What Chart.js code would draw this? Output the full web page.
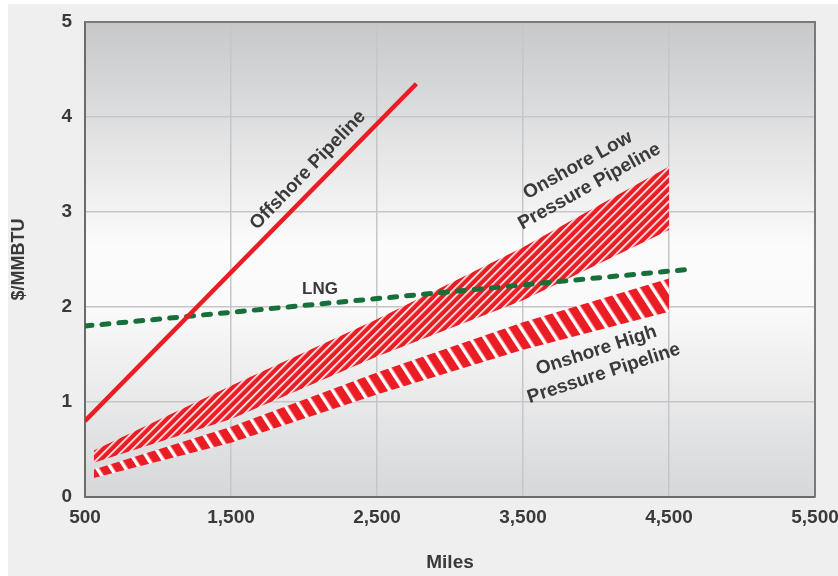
<!DOCTYPE html>
<html>
<head>
<meta charset="utf-8">
<script src="https://cdn.jsdelivr.net/npm/chart.js@4.4.1/dist/chart.umd.min.js"></script>
<style>
  html, body { margin: 0; padding: 0; background: #fff; }
  #wrap { position: absolute; left: 8px; top: 4px; width: 830px; height: 572px; background: #efefef; }
  canvas { display: block; }
</style>
</head>
<body>
<div id="wrap"><canvas id="chart" width="830" height="572"></canvas></div>
<script>
// ===== DATA =====
const xTicks = [500, 1500, 2500, 3500, 4500, 5500];
const yTicks = [0, 1, 2, 3, 4, 5];

const offshoreMiles = [500, 2770];
const offshoreCost = [0.8, 4.35];

const lngMiles = [500, 4660];
const lngCost = [1.8, 2.4];

const lowMiles = [560, 1500, 2500, 3500, 4500];
const lowUpper = [0.49, 1.17, 1.87, 2.63, 3.48];
const lowLower = [0.36, 0.82, 1.48, 2.07, 2.81];

const highMiles = [560, 1500, 2500, 3500, 4500];
const highUpper = [0.29, 0.74, 1.31, 1.84, 2.3];
const highLower = [0.2, 0.57, 1.08, 1.55, 1.95];

const RED = '#ea1d25';
const GREEN = '#17703a';
const TEXT = '#3a3a3a';
const FONT = "'Liberation Sans', Arial, sans-serif";

const pts = (xs, ys) => xs.map((x, i) => ({ x: x, y: ys[i] }));

// hatch pattern: stripes of fg on bg, rotated
function stripes(bg, fg, period, lineW, angle) {
  const c = document.createElement('canvas');
  c.width = period; c.height = period;
  const g = c.getContext('2d');
  g.fillStyle = bg; g.fillRect(0, 0, period, period);
  g.fillStyle = fg; g.fillRect(0, 0, lineW, period);
  const p = g.createPattern(c, 'repeat');
  p.setTransform(new DOMMatrix().rotateSelf(angle));
  return p;
}
const lowHatch = stripes(RED, '#ffffff', 6, 1.6, 45);
const highHatch = stripes(RED, '#ffffff', 12, 3.5, -33);

// text placed on the plot (data coords)
const notes = [
  { lines: ['Offshore Pipeline'], x: 2027, y: 3.44, angle: -46, size: 19 },
  { lines: ['Onshore Low', 'Pressure Pipeline'], x: 3915, y: 3.38, angle: -29, size: 19 },
  { lines: ['LNG'], x: 2110, y: 2.19, angle: 0, size: 17 },
  { lines: ['Onshore High', 'Pressure Pipeline'], x: 4028, y: 1.42, angle: -18, size: 19 }
];

const plotBg = {
  id: 'plotBg',
  beforeDraw(chart) {
    const { ctx, chartArea: a } = chart;
    const grd = ctx.createLinearGradient(0, a.top, 0, a.bottom);
    grd.addColorStop(0, '#c7c8ca');
    grd.addColorStop(0.47, '#fbfbfb');
    grd.addColorStop(0.6, '#fafafa');
    grd.addColorStop(1, '#d6d7d9');
    ctx.save();
    ctx.fillStyle = grd;
    ctx.fillRect(a.left, a.top, a.right - a.left, a.bottom - a.top);
    ctx.restore();
  },
  afterDraw(chart) {
    const { ctx, chartArea: a, scales } = chart;
    ctx.save();
    ctx.strokeStyle = '#7a7a7a';
    ctx.lineWidth = 2;
    ctx.beginPath();
    ctx.moveTo(a.left, a.top); ctx.lineTo(a.right, a.top); ctx.lineTo(a.right, a.bottom);
    ctx.stroke();
    // notes
    ctx.fillStyle = TEXT;
    ctx.textAlign = 'center';
    ctx.textBaseline = 'middle';
    notes.forEach(n => {
      const px = scales.x.getPixelForValue(n.x);
      const py = scales.y.getPixelForValue(n.y);
      ctx.font = 'bold ' + n.size + 'px ' + FONT;
      ctx.save();
      ctx.translate(px, py);
      ctx.rotate(n.angle * Math.PI / 180);
      const lh = 24;
      n.lines.forEach((t, i) => {
        ctx.fillText(t, 0, (i - (n.lines.length - 1) / 2) * lh);
      });
      ctx.restore();
    });
    ctx.restore();
  }
};

const ctx = document.getElementById('chart').getContext('2d');
new Chart(ctx, {
  type: 'scatter',
  data: {
    datasets: [
      { label: 'Offshore Pipeline', data: pts(offshoreMiles, offshoreCost), showLine: true,
        borderColor: RED, borderWidth: 4.5, pointRadius: 0, fill: false },
      { label: 'LNG', data: pts(lngMiles, lngCost), showLine: true,
        borderColor: GREEN, borderWidth: 5, borderDash: [7, 10], borderCapStyle: 'round',
        pointRadius: 0, fill: false },
      { label: 'Onshore Low upper', data: pts(lowMiles, lowUpper), showLine: true,
        borderWidth: 0, borderColor: 'rgba(0,0,0,0)', pointRadius: 0,
        backgroundColor: lowHatch, fill: '+1' },
      { label: 'Onshore Low lower', data: pts(lowMiles, lowLower), showLine: true,
        borderWidth: 0, borderColor: 'rgba(0,0,0,0)', pointRadius: 0, fill: false },
      { label: 'Onshore High upper', data: pts(highMiles, highUpper), showLine: true,
        borderWidth: 0, borderColor: 'rgba(0,0,0,0)', pointRadius: 0,
        backgroundColor: highHatch, fill: '+1' },
      { label: 'Onshore High lower', data: pts(highMiles, highLower), showLine: true,
        borderWidth: 0, borderColor: 'rgba(0,0,0,0)', pointRadius: 0, fill: false }
    ]
  },
  options: {
    responsive: false,
    animation: false,
    layout: { padding: { top: 18, right: 23, left: 0, bottom: 0 } },
    plugins: { legend: { display: false }, tooltip: { enabled: false } },
    scales: {
      x: {
        type: 'linear', min: 500, max: 5500,
        afterBuildTicks: s => { s.ticks = xTicks.map(v => ({ value: v })); },
        afterFit: s => { s.height = 79; s.paddingLeft = 0; s.paddingRight = 0; },
        grid: { color: '#c5c6c8', lineWidth: 1.5, drawTicks: false },
        border: { color: '#6b6b6b', width: 2 },
        ticks: { padding: 9, color: TEXT, font: { family: FONT, size: 19, weight: 'bold' },
          callback: v => v.toLocaleString('en-US') },
        title: { display: true, text: 'Miles', color: TEXT, padding: { top: 0, bottom: 2 },
          font: { family: FONT, size: 19, weight: 'bold' } }
      },
      y: {
        type: 'linear', min: 0, max: 5,
        afterBuildTicks: s => { s.ticks = yTicks.map(v => ({ value: v })); },
        afterFit: s => { s.width = 77; s.paddingTop = 0; s.paddingBottom = 0; },
        grid: { color: '#c5c6c8', lineWidth: 1.5, drawTicks: false },
        border: { color: '#6b6b6b', width: 2 },
        ticks: { padding: 13, color: TEXT, font: { family: FONT, size: 19, weight: 'bold' } },
        title: { display: true, text: '$/MMBTU', color: TEXT, padding: { top: 0, bottom: 0 },
          font: { family: FONT, size: 18, weight: 'bold' } }
      }
    }
  },
  plugins: [plotBg]
});
</script>
</body>
</html>
